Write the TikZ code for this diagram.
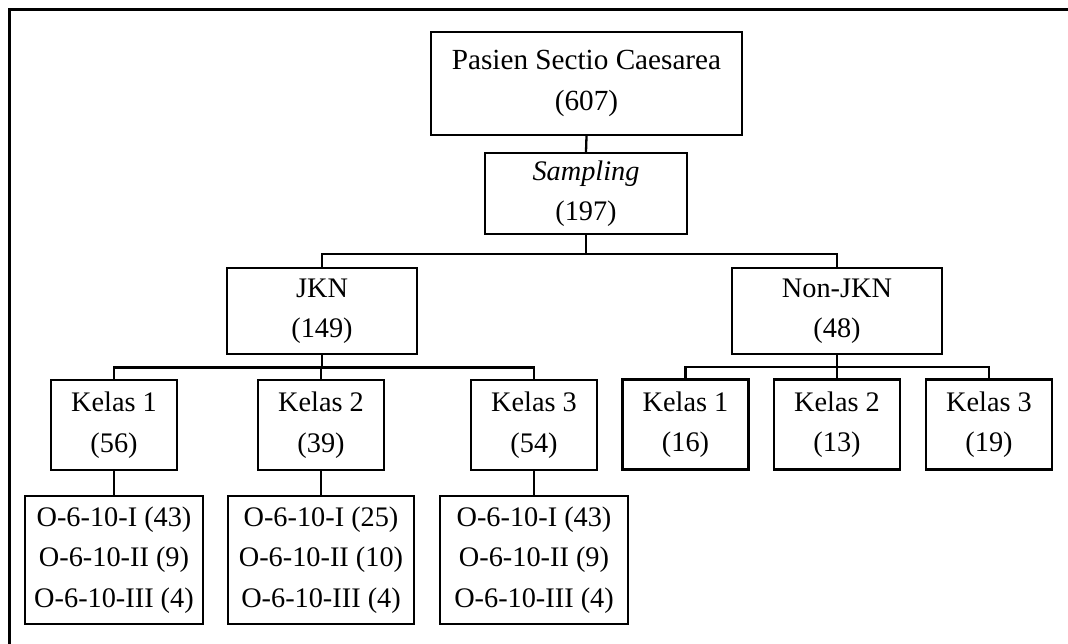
\documentclass[tikz,border=0pt]{standalone}
\usepackage{fontspec}
\setmainfont{Liberation Serif}
\begin{document}
\begin{tikzpicture}[x=1pt,y=-1pt,
  box/.style={draw, line width=2.3pt, inner sep=0pt, align=center,
    font=\fontsize{28.3}{40.5}\selectfont},
  link/.style={line width=2.3pt, line cap=rect},
  frame/.style={line width=3pt}]
\useasboundingbox (0,0) rectangle (1068,644);
\draw[frame] (9,700) -- (9,10) -- (1100,10);

\node[box, minimum width=311pt, minimum height=103pt,
  font=\fontsize{29.2}{41}\selectfont] (top) at (586.5,83.5) {Pasien Sectio Caesarea\\(607)};
\node[box, minimum width=202pt, minimum height=81pt] (samp) at (586,193.5) {\textit{Sampling}\\(197)};

\node[box, minimum width=190pt, minimum height=86pt] (jkn) at (322,311) {JKN\\(149)};
\node[box, minimum width=210pt, minimum height=86pt] (non) at (837,311) {Non-JKN\\(48)};

\node[box, minimum width=126pt, minimum height=90pt] (j1) at (114,425) {Kelas 1\\(56)};
\node[box, minimum width=126pt, minimum height=90pt] (j2) at (321,425) {Kelas 2\\(39)};
\node[box, minimum width=126pt, minimum height=90pt] (j3) at (534,425) {Kelas 3\\(54)};

\node[box, minimum width=126pt, minimum height=90pt] (n1) at (685.5,424.5) {Kelas 1\\(16)};
\node[box, minimum width=126pt, minimum height=90pt] (n2) at (837,424.5) {Kelas 2\\(13)};
\node[box, minimum width=126pt, minimum height=90pt] (n3) at (989,424.5) {Kelas 3\\(19)};

\node[box, minimum width=178pt, minimum height=128pt] (b1) at (114,560) {O-6-10-I (43)\\O-6-10-II (9)\\O-6-10-III (4)};
\node[box, minimum width=186pt, minimum height=128pt] (b2) at (321,560) {O-6-10-I (25)\\O-6-10-II (10)\\O-6-10-III (4)};
\node[box, minimum width=188pt, minimum height=128pt] (b3) at (534,560) {O-6-10-I (43)\\O-6-10-II (9)\\O-6-10-III (4)};

\coordinate (h1) at (586,254);
\coordinate (h2) at (322,367.5);
\coordinate (h3) at (837,367);

\draw[link] (top.south) -- (samp.north);
\draw[link] (samp.south) -- (h1);
\draw[link] (jkn.north) |- (h1) -| (non.north);

\draw[link] (jkn.south) -- (h2);
\draw[link] (j1.north) |- (h2) -| (j3.north);
\draw[link] (j2.north) -- (j2.north |- h2);

\draw[link] (non.south) -- (h3);
\draw[link] (n1.north) |- (h3) -| (n3.north);
\draw[link] (n2.north) -- (h3);

\draw[link] (j1.south) -- (b1.north);
\draw[link] (j2.south) -- (b2.north);
\draw[link] (j3.south) -- (b3.north);
\end{tikzpicture}
\end{document}
